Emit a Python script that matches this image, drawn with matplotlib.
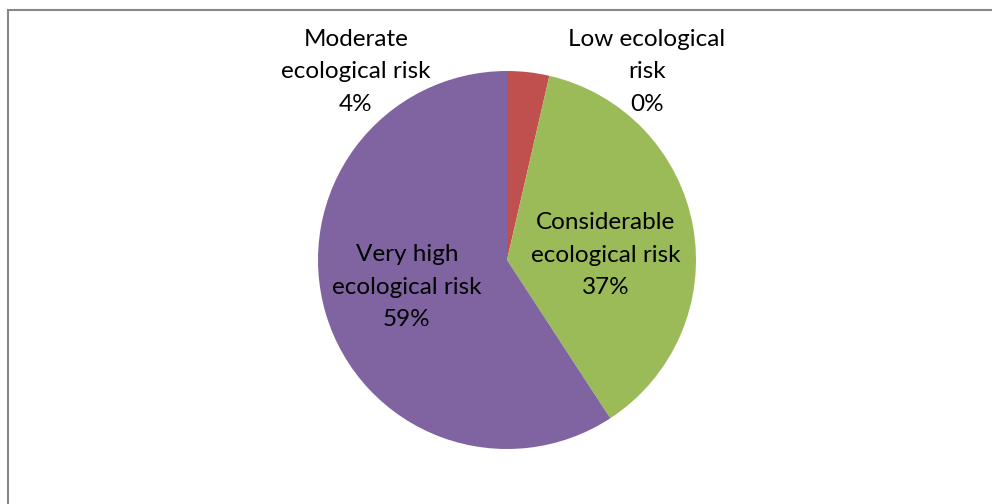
import matplotlib

matplotlib.use("Agg")
import matplotlib.pyplot as plt
from matplotlib.patches import Rectangle

# slices in Excel order, clockwise from 12 o'clock
categories = [
    "Low ecological\nrisk",
    "Moderate\necological risk",
    "Considerable\necological risk",
    "Very high\necological risk",
]
values = [0.0, 3.6, 37.2, 59.2]
colors = ["#4F81BD", "#C0504D", "#9BBB59", "#8064A2"]

plt.rcParams["font.family"] = ["Lato", "DejaVu Sans"]

fig = plt.figure(figsize=(9.92, 5.04), dpi=100)
fig.patch.set_facecolor("white")

# chart area border (right/bottom edges run off the picture)
fig.patches.append(
    Rectangle(
        (7.5 / 992, -0.1),
        1.2,
        1.1 - 10.5 / 504,
        transform=fig.transFigure,
        fill=False,
        edgecolor="#878787",
        linewidth=1.5,
    )
)

ax = fig.add_axes([318 / 992, 55 / 504, 378 / 992, 378 / 504])
wedges, _ = ax.pie(
    values,
    colors=colors,
    startangle=90,
    counterclock=False,
    radius=1.0,
    wedgeprops={"linewidth": 0},
)
ax.set_xlim(-1, 1)
ax.set_ylim(-1, 1)
ax.set_aspect("equal")
ax.axis("off")

total = sum(values)
pct = [f"{v / total * 100:.0f}%" for v in values]

# label anchors in pie units (Excel best-fit placement)
label_pos = [(0.74, 0.995), (-0.8, 0.995), (0.52, 0.026), (-0.53, -0.143)]

for i, (x, y) in enumerate(label_pos):
    ax.text(x, y, f"{categories[i]}\n{pct[i]}", ha="center", va="center",
            fontsize=17.5, color="black", linespacing=1.7, clip_on=False)

fig.savefig("out.png", dpi=100)
